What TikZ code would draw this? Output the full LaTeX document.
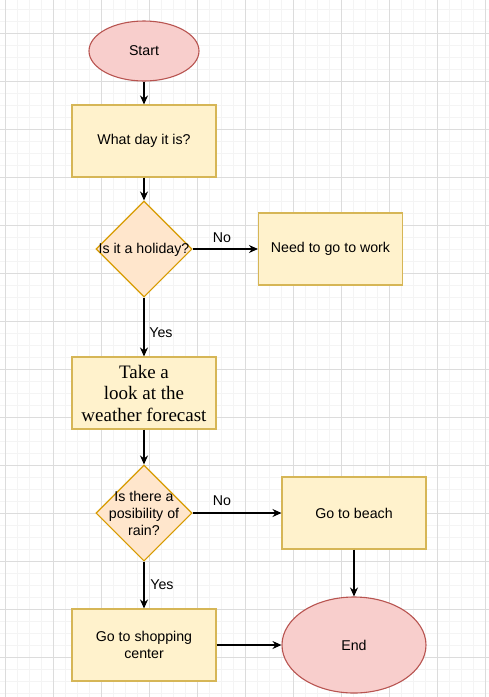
\documentclass[tikz,border=0pt]{standalone}
\usepackage{fontspec}
\setmainfont{Liberation Sans}
\newfontfamily\serifx{Liberation Serif}
\usetikzlibrary{shapes.geometric,arrows.meta}
\definecolor{termfill}{HTML}{F8CECC}
\definecolor{termline}{HTML}{B85450}
\definecolor{boxfill}{HTML}{FFF2CC}
\definecolor{boxline}{HTML}{D6B656}
\definecolor{decfill}{HTML}{FFE6CC}
\definecolor{decline}{HTML}{D79B00}
\definecolor{gridminor}{HTML}{F4F4F4}
\definecolor{gridmajor}{HTML}{DCDCDC}
\tikzset{
  term/.style={ellipse, draw=termline, fill=termfill, line width=1.1pt, inner sep=0pt, font=\fontsize{14.2}{17}\selectfont},
  procbox/.style={rectangle, draw=boxline, fill=boxfill, line width=1.1pt, minimum width=144pt, minimum height=72pt, inner sep=0pt, align=center, font=\fontsize{14.2}{17.3}\selectfont},
  decision/.style={diamond, draw=decline, fill=decfill, line width=1.1pt, minimum width=96pt, minimum height=96pt, inner sep=0pt},
  dectext/.style={align=center, inner sep=0pt, font=\fontsize{14.2}{17.3}\selectfont},
  flow/.style={-{Stealth[length=9pt,width=8pt]}, line width=1.2pt, black},
  lbl/.style={inner sep=0pt, font=\fontsize{14.2}{17}\selectfont}
}
\begin{document}
\begin{tikzpicture}[x=1pt,y=-1pt]
\useasboundingbox (0,0) rectangle (489,697);
\fill[white] (0,0) rectangle (489,697);
% grid
\foreach \i in {0,...,41} {\draw[gridminor, line width=0.8pt] ({-7+12*\i},0) -- ({-7+12*\i},697);}
\foreach \i in {0,...,58} {\draw[gridminor, line width=0.8pt] (0,{9+12*\i}) -- (489,{9+12*\i});}
\foreach \i in {0,...,10} {\draw[gridmajor, line width=0.7pt] ({5+48*\i},0) -- ({5+48*\i},697);}
\foreach \i in {0,...,14} {\draw[gridmajor, line width=0.7pt] (0,{-15+48*\i}) -- (489,{-15+48*\i});}

% nodes
\node[term, minimum width=110pt, minimum height=60pt] (start) at (144,51) {Start};
\node[procbox] (day) at (144,141) {What day it is?};
\node[decision] (d1) at (144,249) {};
\node[dectext] (d1t) at (144,250) {Is it a holiday?};
\node[procbox] (work) at (330.5,249) {Need to go to work};
\node[procbox, font=\serifx\fontsize{19}{21.5}\selectfont] (weather) at (144,393) {Take a\\look at the\\weather forecast};
\node[decision] (d2) at (144,513) {};
\node[dectext] (d2t) at (144,513.5) {Is there a\\posibility of\\rain?};
\node[procbox] (beach) at (354,513) {Go to beach};
\node[procbox] (shop) at (144,645) {Go to shopping\\center};
\node[term, minimum width=144pt, minimum height=96pt] (end) at (354,645) {End};

% connectors
\draw[flow] (start) -- (day);
\draw[flow] (day) -- (d1);
\draw[flow] (d1.east) -- (work.west);
\draw[flow] (d1.south) -- (weather.north);
\draw[flow] (weather) -- (d2);
\draw[flow] (d2.east) -- (beach.west);
\draw[flow] (d2.south) -- (shop.north);
\draw[flow] (beach) -- (end);
\draw[flow] (shop.east) -- (end.west);

% labels
\node[lbl] (no1) at (222,237.5) {No};
\node[lbl] (yes1) at (161,333) {Yes};
\node[lbl] (no2) at (222,501) {No};
\node[lbl] (yes2) at (162,585) {Yes};
\end{tikzpicture}
\end{document}
